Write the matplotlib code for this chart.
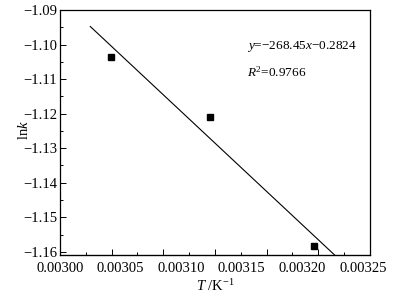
import numpy as np
import matplotlib
matplotlib.use("Agg")
import matplotlib.pyplot as plt

# data (x: 1/T, y: ln k)
inv_T = [0.0030418, 0.0031238, 0.0032096]
ln_k = [-1.1035, -1.1209, -1.1584]
fit_range = [0.003025, 0.003227]

x_tick_values = [0.00300, 0.00305, 0.00310, 0.00315, 0.00320, 0.00325]
x_tick_labels = ["0.00300", "0.00305", "0.00310", "0.00315", "0.00320", "0.00325"]
y_tick_values = [-1.09, -1.10, -1.11, -1.12, -1.13, -1.14, -1.15, -1.16]

plt.rcParams["font.family"] = ["Liberation Serif", "DejaVu Serif"]
plt.rcParams["mathtext.fontset"] = "custom"
plt.rcParams["mathtext.rm"] = "Liberation Serif"
plt.rcParams["mathtext.it"] = "Liberation Serif:italic"

fig = plt.figure(figsize=(4.01, 2.93), dpi=100)
ax = fig.add_axes([0.1496, 0.1297, 0.7731, 0.8362])

xmin, xmax = 0.00300, 0.0032558
ymin, ymax = -1.1609, -1.0900

# scatter points
ax.plot(inv_T, ln_k, "s", color="black", markersize=4.2)

# linear fit
slope, intercept = np.polyfit(inv_T, ln_k, 1)
xf = np.array(fit_range)
ax.plot(xf, slope * xf + intercept, color="black", linewidth=0.8)

ax.set_xlim(xmin, xmax)
ax.set_ylim(ymin, ymax)

# x labels (no marks) + separate tick marks
ax.set_xticks(x_tick_values)
ax.set_xticklabels(x_tick_labels, fontsize=10.5)
ax.tick_params(axis="x", which="major", length=0, pad=5)
step = (xmax - xmin) / 12
ax.set_xticks([xmin + k * step for k in range(1, 12, 2)], minor=True)
ax.tick_params(axis="x", which="minor", direction="in", length=2.5, width=0.7)
sec = ax.secondary_xaxis("bottom")
sec.set_xticks([xmin + k * step for k in range(2, 12, 2)])
sec.set_xticklabels([])
sec.tick_params(direction="in", length=4.5, width=0.7)

ax.set_yticks(y_tick_values)
ax.set_yticklabels([f"{v:.2f}".replace("-", "\u2212") for v in y_tick_values], fontsize=10.5)
ax.set_yticks([v - 0.005 for v in y_tick_values[:-1]], minor=True)
ax.tick_params(axis="y", which="major", direction="in", length=4.5, width=0.7, pad=2)
ax.tick_params(axis="y", which="minor", direction="in", length=2.5, width=0.7)

for sp in ax.spines.values():
    sp.set_linewidth(0.9)

ax.text(0.003154, -1.1007, "$y$=\u2212268.45$x$\u22120.2824",
        fontsize=9.5, ha="left", va="center")
ax.text(0.003154, -1.1079, r"$R^2$=0.9766", fontsize=9.5, ha="left", va="center")

ax.set_ylabel(r"ln$k$", fontsize=10.5)
ax.yaxis.set_label_coords(-0.095, 0.51)
ax.set_xlabel(r"$T$ /K$^{-1}$", fontsize=10.5, labelpad=2)

fig.savefig("out.png", dpi=100)
